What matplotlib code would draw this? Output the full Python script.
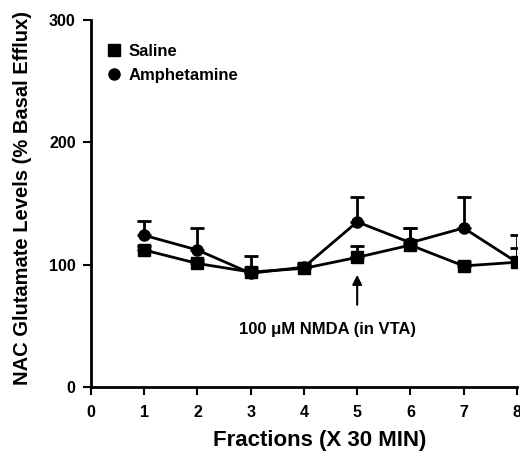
import matplotlib
matplotlib.use("Agg")
import matplotlib.pyplot as plt
from matplotlib.lines import Line2D

plt.rcParams['font.family'] = ['Liberation Sans', 'DejaVu Sans']
plt.rcParams['font.weight'] = 'bold'

fractions = [1, 2, 3, 4, 5, 6, 7, 8]
saline = [112, 101, 94, 97, 106, 116, 99, 102]
saline_err = [3, 3, 3, 3, 9, 14, 3, 12]
amph = [124, 112, 93, 98, 135, 118, 130, 102]
amph_err = [12, 18, 14, 3, 20, 12, 25, 22]
xticks = [0, 1, 2, 3, 4, 5, 6, 7, 8]
yticks = [0, 100, 200, 300]

fig = plt.figure(figsize=(5.2, 4.61), dpi=100)
ax = fig.add_axes([0.175, 0.1605, 0.819, 0.796])

ax.errorbar(fractions, amph, yerr=[[0]*len(amph), amph_err], color='black',
            marker='o', markersize=8, linewidth=2, elinewidth=2, capsize=5,
            capthick=2, label='Amphetamine', zorder=3)
ax.errorbar(fractions, saline, yerr=[[0]*len(saline), saline_err], color='black',
            marker='s', markersize=8, linewidth=2, elinewidth=2, capsize=5,
            capthick=2, label='Saline', zorder=4)

ax.set_xlim(0, 8)
ax.set_ylim(0, 300)
ax.set_xticks(xticks)
ax.set_yticks(yticks)
ax.tick_params(axis='both', direction='out', length=6, width=1.5, labelsize=11.5)
ax.tick_params(axis='x', pad=7)
ax.tick_params(axis='y', pad=5)
for lab in ax.get_xticklabels() + ax.get_yticklabels():
    lab.set_fontweight('bold')
for s in ['top', 'right']:
    ax.spines[s].set_visible(False)
for s in ['left', 'bottom']:
    ax.spines[s].set_linewidth(2)
ax.spines['bottom'].set_zorder(5)

ax.set_xlabel('Fractions (X 30 MIN)', fontsize=16, fontweight='bold')
ax.xaxis.label.set_va('center')
ax.xaxis.set_label_coords(0.5376, -0.147)
ax.set_ylabel('NAC Glutamate Levels (% Basal Efflux)', fontsize=14.5, fontweight='bold')
ax.yaxis.label.set_va('center')
ax.yaxis.set_label_coords(-0.162, 0.515)

ax.annotate('', xy=(5, 94), xytext=(5, 65),
            arrowprops=dict(arrowstyle='-|>', color='black', lw=1.5, mutation_scale=14))
ax.text(4.45, 47, '100 \u03bcM NMDA (in VTA)', ha='center', va='center',
        fontsize=12, fontweight='bold')

handles = [Line2D([], [], color='black', marker='s', linestyle='none', markersize=8),
           Line2D([], [], color='black', marker='o', linestyle='none', markersize=8)]
leg = ax.legend(handles, ['Saline', 'Amphetamine'], loc='upper left',
                bbox_to_anchor=(-0.01, 0.975), frameon=False, handletextpad=0.1,
                handlelength=1.5, prop={'weight': 'bold', 'size': 12}, labelspacing=0.5)

fig.savefig('out.png', dpi=100)
